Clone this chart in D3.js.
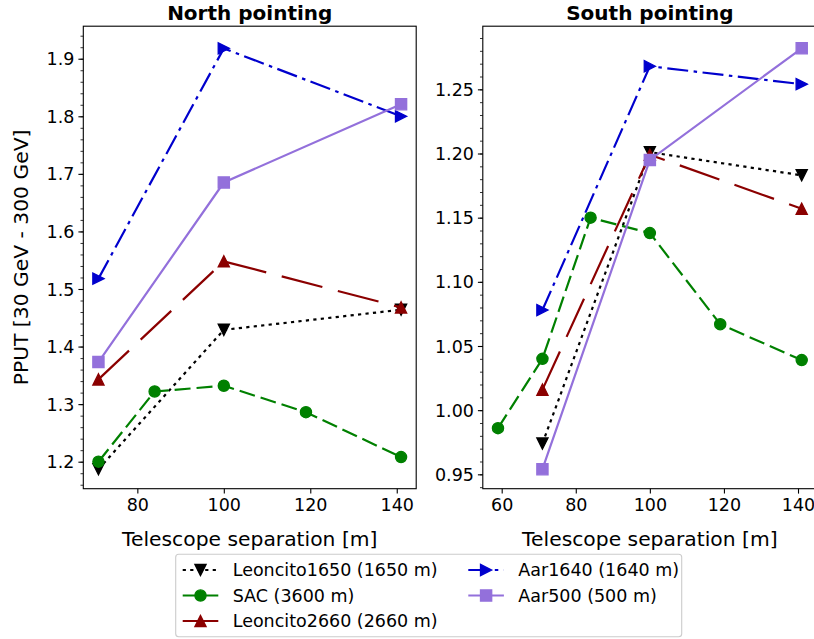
<!DOCTYPE html>
<html><head><meta charset="utf-8">
<script src="https://cdn.jsdelivr.net/npm/d3@7"></script>
<style>
body{margin:0;background:#fff;}
svg{display:block;font-family:"DejaVu Sans",sans-serif;}
</style></head><body>
<svg id="chart" width="814" height="639"></svg>
<script>
// ---------- data ----------
const seriesNames = ["Leoncito1650 (1650 m)", "SAC (3600 m)", "Leoncito2660 (2660 m)", "Aar1640 (1640 m)", "Aar500 (500 m)"];
const seriesColors = ["#000000", "#008000", "#8b0000", "#0000cd", "#9370db"];
const seriesMarkers = ["tri_down", "circle", "tri_up", "tri_right", "square"];
const seriesDashes = ["3.2,4.3", "16,6", "42,16", "21,5.5,3.5,5.5", null];

// North pointing
const northX_Leoncito1650 = [71, 100, 141];
const northY_Leoncito1650 = [1.187, 1.429, 1.464];
const northX_SAC = [71, 84, 100, 119, 141];
const northY_SAC = [1.200, 1.322, 1.332, 1.286, 1.208];
const northX_Leoncito2660 = [71, 100, 141];
const northY_Leoncito2660 = [1.343, 1.548, 1.468];
const northX_Aar1640 = [71, 100, 141];
const northY_Aar1640 = [1.518, 1.918, 1.800];
const northX_Aar500 = [71, 100, 141];
const northY_Aar500 = [1.373, 1.685, 1.821];

// South pointing
const southX_Leoncito1650 = [71, 100, 141];
const southY_Leoncito1650 = [0.974, 1.201, 1.183];
const southX_SAC = [59, 71, 84, 100, 119, 141];
const southY_SAC = [0.986, 1.040, 1.150, 1.138, 1.067, 1.039];
const southX_Leoncito2660 = [71, 100, 141];
const southY_Leoncito2660 = [1.016, 1.199, 1.157];
const southX_Aar1640 = [71, 100, 141];
const southY_Aar1640 = [1.078, 1.268, 1.254];
const southX_Aar500 = [71, 100, 141];
const southY_Aar500 = [0.954, 1.195, 1.282];

const northTicksX = [80, 100, 120, 140];
const northTicksY = [1.2, 1.3, 1.4, 1.5, 1.6, 1.7, 1.8, 1.9];
const southTicksX = [60, 80, 100, 120, 140];
const southTicksY = [0.95, 1.00, 1.05, 1.10, 1.15, 1.20, 1.25];

const titles = ["North pointing", "South pointing"];
const xLabel = "Telescope separation [m]";
const yLabel = "PPUT [30 GeV - 300 GeV]";

// ---------- layout ----------
const svg = d3.select("#chart");
const plotTop = 26.2, plotBottom = 488.7;
const lw = 2.2, ms = 11.2, mew = 1.3;

const panels = [
  {x0: 83.3, x1: 416.2, xDom: [67.5, 144.5], yDom: [1.1531, 1.9565],
   xt: northTicksX, yt: northTicksY, yFmt: d3.format(".1f"), minorStep: 0.02,
   xs: [northX_Leoncito1650, northX_SAC, northX_Leoncito2660, northX_Aar1640, northX_Aar500],
   ys: [northY_Leoncito1650, northY_SAC, northY_Leoncito2660, northY_Aar1640, northY_Aar500]},
  {x0: 482.8, x1: 816.9, xDom: [54.9, 145.1], yDom: [0.9388, 1.2992],
   xt: southTicksX, yt: southTicksY, yFmt: d3.format(".2f"), minorStep: 0.01,
   xs: [southX_Leoncito1650, southX_SAC, southX_Leoncito2660, southX_Aar1640, southX_Aar500],
   ys: [southY_Leoncito1650, southY_SAC, southY_Leoncito2660, southY_Aar1640, southY_Aar500]}
];

function markerPath(type, cx, cy, s) {
  const h = s / 2;
  switch (type) {
    case "tri_down": return `M${cx},${cy+h}L${cx-h},${cy-h}L${cx+h},${cy-h}Z`;
    case "tri_up": return `M${cx},${cy-h}L${cx-h},${cy+h}L${cx+h},${cy+h}Z`;
    case "tri_right": return `M${cx+h},${cy}L${cx-h},${cy-h}L${cx-h},${cy+h}Z`;
    case "square": return `M${cx-h},${cy-h}h${s}v${s}h${-s}Z`;
    default: return `M${cx+h},${cy}A${h},${h} 0 1,1 ${cx-h},${cy}A${h},${h} 0 1,1 ${cx+h},${cy}Z`;
  }
}

panels.forEach((p, pi) => {
  const x = d3.scaleLinear().domain(p.xDom).range([p.x0, p.x1]);
  const y = d3.scaleLinear().domain(p.yDom).range([plotBottom, plotTop]);
  const g = svg.append("g");

  // minor y ticks
  const minor = d3.range(Math.ceil(p.yDom[0] / p.minorStep), Math.floor(p.yDom[1] / p.minorStep) + 1)
    .map(k => +(k * p.minorStep).toFixed(4));
  g.append("g").attr("transform", `translate(${p.x0},0)`)
    .call(d3.axisLeft(y).tickValues(minor).tickFormat("").tickSize(2.8).tickSizeOuter(0))
    .call(a => a.select(".domain").remove())
    .call(a => a.selectAll("line").attr("stroke", "#000").attr("stroke-width", 0.8));

  // major y
  g.append("g").attr("transform", `translate(${p.x0},0)`)
    .call(d3.axisLeft(y).tickValues(p.yt).tickFormat(p.yFmt).tickSize(4.9).tickPadding(4).tickSizeOuter(0))
    .call(a => a.select(".domain").remove())
    .call(a => a.selectAll("line").attr("stroke", "#000").attr("stroke-width", 1.1))
    .call(a => a.selectAll("text").attr("font-size", 17.5).attr("fill", "#000")
      .attr("font-family", "DejaVu Sans").attr("dy", "0.35em"));

  // x axis
  g.append("g").attr("transform", `translate(0,${plotBottom})`)
    .call(d3.axisBottom(x).tickValues(p.xt).tickFormat(d3.format("d")).tickSize(4.9).tickPadding(4).tickSizeOuter(0))
    .call(a => a.select(".domain").remove())
    .call(a => a.selectAll("line").attr("stroke", "#000").attr("stroke-width", 1.1))
    .call(a => a.selectAll("text").attr("font-size", 17.5).attr("fill", "#000")
      .attr("font-family", "DejaVu Sans").attr("dy", "0.78em"));

  // frame
  g.append("rect").attr("x", p.x0).attr("y", plotTop).attr("width", p.x1 - p.x0).attr("height", plotBottom - plotTop)
    .attr("fill", "none").attr("stroke", "#000").attr("stroke-width", 1.1);

  // series
  const line = d3.line().x(d => x(d[0])).y(d => y(d[1]));
  seriesNames.forEach((name, si) => {
    const pts = p.xs[si].map((v, i) => [v, p.ys[si][i]]);
    const path = g.append("path").datum(pts).attr("d", line)
      .attr("fill", "none").attr("stroke", seriesColors[si]).attr("stroke-width", lw);
    if (seriesDashes[si]) path.attr("stroke-dasharray", seriesDashes[si]);
    g.selectAll(null).data(pts).enter().append("path")
      .attr("d", d => markerPath(seriesMarkers[si], x(d[0]), y(d[1]), ms))
      .attr("fill", seriesColors[si]).attr("stroke", seriesColors[si]).attr("stroke-width", mew)
      .attr("stroke-linejoin", "miter");
  });

  // title
  svg.append("text").attr("x", (p.x0 + p.x1) / 2).attr("y", 20).attr("text-anchor", "middle")
    .attr("font-size", 20).attr("font-weight", "bold").text(titles[pi]);
  // x label
  svg.append("text").attr("x", (p.x0 + p.x1) / 2).attr("y", 546).attr("text-anchor", "middle")
    .attr("font-size", 20.3).text(xLabel);
});

// y label
svg.append("text").attr("transform", `translate(27.5,${(plotTop + plotBottom) / 2}) rotate(-90)`)
  .attr("text-anchor", "middle").attr("font-size", 20.3).text(yLabel);

// legend
const lg = svg.append("g");
lg.append("rect").attr("x", 175.7).attr("y", 554.3).attr("width", 506).attr("height", 82.4)
  .attr("rx", 3).attr("fill", "#fff").attr("fill-opacity", 0.8).attr("stroke", "#cccccc").attr("stroke-width", 1.1);
const colX = [182.7, 468.3];
const rowY = [570, 595.5, 621];
seriesNames.forEach((name, si) => {
  const col = si < 3 ? 0 : 1;
  const row = si < 3 ? si : si - 3;
  const lx = colX[col], ly = rowY[row];
  const hp = lg.append("path").attr("d", `M${lx},${ly}H${lx + 35.6}`)
    .attr("stroke", seriesColors[si]).attr("stroke-width", lw).attr("fill", "none");
  if (seriesDashes[si]) hp.attr("stroke-dasharray", seriesDashes[si]);
  lg.append("path").attr("d", markerPath(seriesMarkers[si], lx + 17.8, ly, ms))
    .attr("fill", seriesColors[si]).attr("stroke", seriesColors[si]).attr("stroke-width", mew);
  lg.append("text").attr("x", lx + 50).attr("y", ly).attr("dy", "0.35em")
    .attr("font-size", 17.5).text(name);
});
</script>
</body></html>
